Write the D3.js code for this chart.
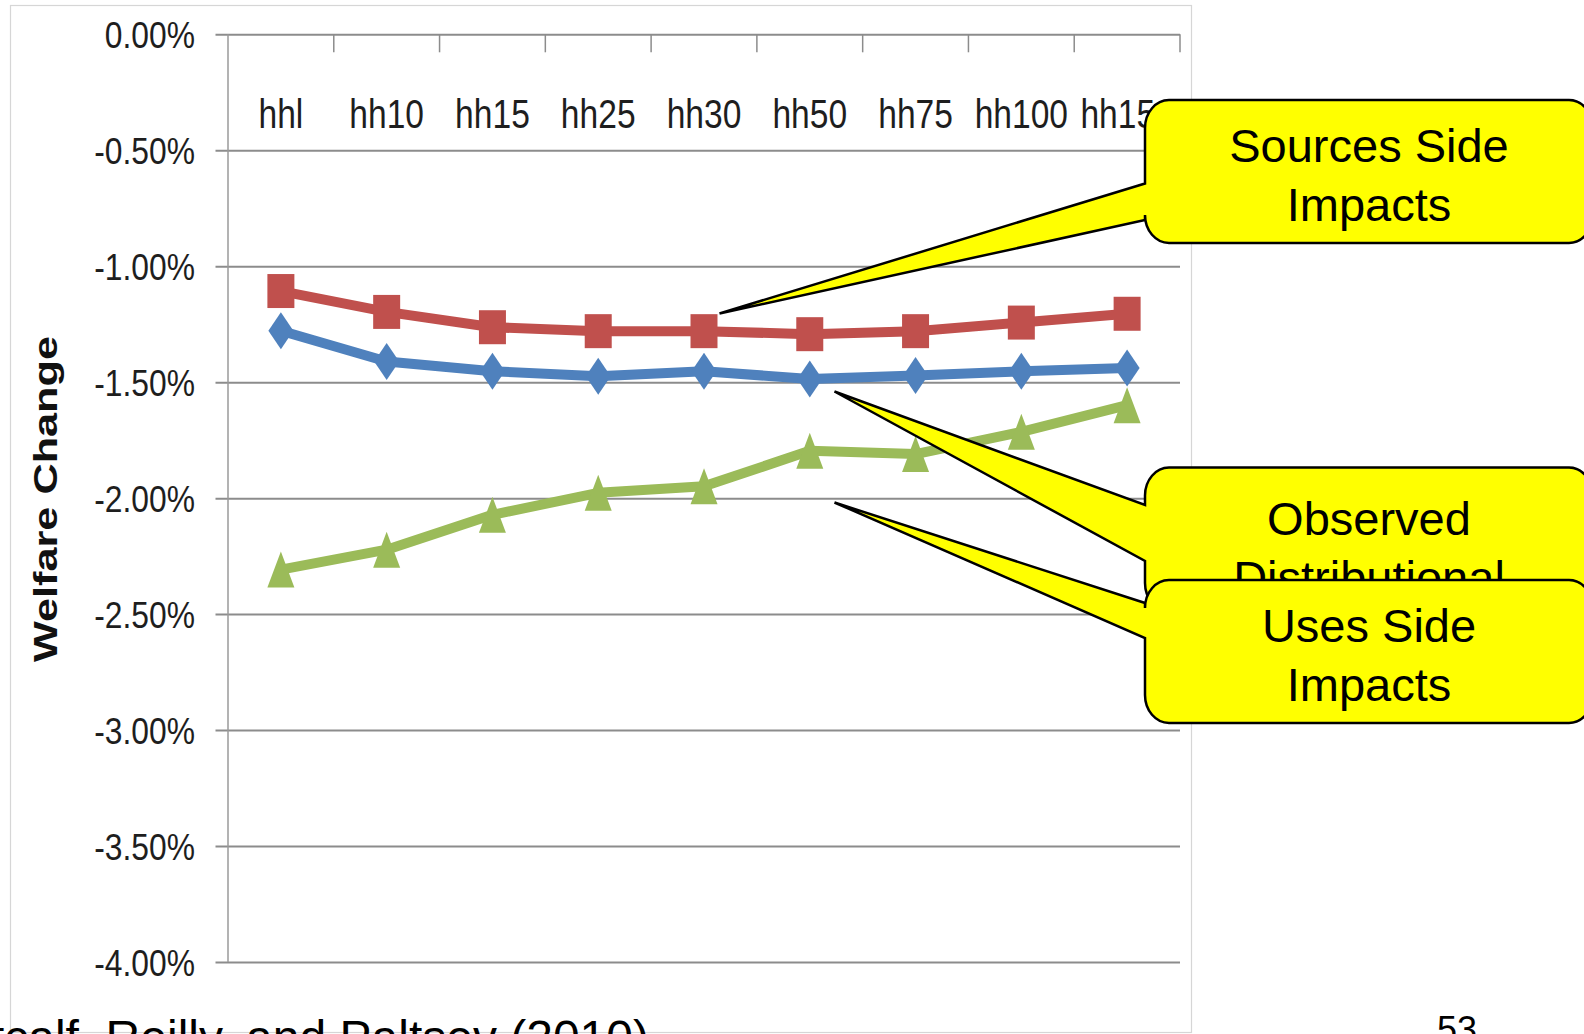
<!DOCTYPE html>
<html>
<head>
<meta charset="utf-8">
<script src="https://cdn.jsdelivr.net/npm/d3@7"></script>
<style>
  html, body { margin: 0; padding: 0; background: #fff; overflow: hidden; }
  svg { display: block; }
</style>
</head>
<body>
<svg id="chart" width="1584" height="1034"></svg>
<script>
// Household groups along the category axis
const categories = ["hhl", "hh10", "hh15", "hh25", "hh30", "hh50", "hh75", "hh100", "hh150"];

// Welfare change by household group, in percent
const sourcesSide = [-1.107, -1.197, -1.263, -1.280, -1.280, -1.293, -1.280, -1.243, -1.205];
const observedDistributional = [-1.278, -1.411, -1.453, -1.474, -1.453, -1.486, -1.471, -1.453, -1.439];
const usesSide = [-2.308, -2.222, -2.072, -1.977, -1.949, -1.796, -1.810, -1.714, -1.599];

// Value axis ticks, in percent
const yTicks = [0, -0.5, -1, -1.5, -2, -2.5, -3, -3.5, -4];

const yTitle = "Welfare Change";
const citation = "Metcalf, Reilly, and Paltsev (2010)";
const pageNumber = "53";

// Callout labels (one array of lines per callout)
const sourcesLabel = ["Sources Side", "Impacts"];
const observedLabel = ["Observed", "Distributional"];
const usesLabel = ["Uses Side", "Impacts"];

const svg = d3.select("#chart");
const FONT = "'Liberation Sans', Arial, sans-serif";

const plotLeft = 228, plotRight = 1180, plotTop = 34.3, plotBottom = 962;
const gridStart = 215.5;

const x = d3.scaleBand().domain(categories).range([plotLeft, plotRight]);
const y = d3.scaleLinear().domain([-4, 0]).range([plotBottom, plotTop]);
const cx = c => x(c) + x.bandwidth() / 2;

// Chart frame
svg.append("rect")
  .attr("x", 10.5).attr("y", 5.5)
  .attr("width", 1181).attr("height", 1027)
  .attr("fill", "none").attr("stroke", "#d6d6d6").attr("stroke-width", 1.2);

// Value axis with horizontal gridlines
const tickSx = 0.86;
const yAxis = d3.axisLeft(y)
  .tickValues(yTicks)
  .tickSize(-(plotRight - gridStart))
  .tickFormat(d => d.toFixed(2) + "%");

const yg = svg.append("g")
  .attr("transform", `translate(${gridStart},0)`)
  .call(yAxis);
yg.select(".domain").remove();
yg.selectAll(".tick line").attr("stroke", "#8c8c8c").attr("stroke-width", 2);
yg.selectAll(".tick text")
  .attr("x", -20.5 / tickSx)
  .attr("dy", null)
  .attr("y", 13)
  .attr("transform", `scale(${tickSx},1)`)
  .attr("fill", "#1e1e1e")
  .style("font-family", FONT)
  .style("font-size", "37px");

// Vertical axis line
svg.append("line")
  .attr("x1", plotLeft).attr("x2", plotLeft)
  .attr("y1", y(0)).attr("y2", y(-4))
  .attr("stroke", "#9a9a9a").attr("stroke-width", 1.5);

// Category tick marks hanging below the zero line
svg.append("g").selectAll("line")
  .data(categories)
  .join("line")
  .attr("x1", c => x(c) + x.bandwidth()).attr("x2", c => x(c) + x.bandwidth())
  .attr("y1", y(0)).attr("y2", y(0) + 18)
  .attr("stroke", "#8c8c8c").attr("stroke-width", 1.5);

// Category labels
const catSx = 0.84;
svg.append("g").selectAll("text")
  .data(categories)
  .join("text")
  .attr("transform", c => `translate(${cx(c)},128.3) scale(${catSx},1)`)
  .attr("text-anchor", "middle")
  .attr("fill", "#1e1e1e")
  .style("font-family", FONT)
  .style("font-size", "40px")
  .text(c => c);

// Axis title
svg.append("text")
  .attr("transform", "translate(57.4,499) rotate(-90)")
  .attr("text-anchor", "middle")
  .attr("textLength", 326)
  .attr("lengthAdjust", "spacingAndGlyphs")
  .attr("fill", "#111")
  .style("font-family", FONT)
  .style("font-weight", "bold")
  .style("font-size", "33px")
  .text(yTitle);

// Marker shapes
const markerPath = {
  square: "M-13.5,-17H13.5V17H-13.5Z",
  diamond: "M0,-18.5L12.5,0L0,18.5L-12.5,0Z",
  triangle: "M0,-18L13.5,18H-13.5Z"
};

const series = [
  { name: "Uses Side", values: usesSide, color: "#9BBB59", marker: "triangle" },
  { name: "Observed Distributional", values: observedDistributional, color: "#4F81BD", marker: "diamond" },
  { name: "Sources Side", values: sourcesSide, color: "#C0504D", marker: "square" }
];

const line = d3.line()
  .x((d, i) => cx(categories[i]))
  .y(d => y(d));

series.forEach(s => {
  const g = svg.append("g");
  g.append("path")
    .attr("d", line(s.values))
    .attr("fill", "none")
    .attr("stroke", s.color)
    .attr("stroke-width", 10)
    .attr("stroke-linejoin", "round");
  g.selectAll("path.m")
    .data(s.values)
    .join("path")
    .attr("class", "m")
    .attr("d", markerPath[s.marker])
    .attr("transform", (d, i) => `translate(${cx(categories[i])},${y(d)})`)
    .attr("fill", s.color);
});

// Callout balloons: rounded box with a pointer on its left edge
function calloutPath(b) {
  const { x0, y0, x1, y1, rx, ry, tipX, tipY, baseTop, baseBot } = b;
  return `M${x0 + rx},${y0}H${x1 - rx}A${rx},${ry} 0 0 1 ${x1},${y0 + ry}` +
    `V${y1 - ry}A${rx},${ry} 0 0 1 ${x1 - rx},${y1}H${x0 + rx}` +
    `A${rx},${ry} 0 0 1 ${x0},${y1 - ry}V${baseBot}L${tipX},${tipY}L${x0},${baseTop}` +
    `V${y0 + ry}A${rx},${ry} 0 0 1 ${x0 + rx},${y0}Z`;
}

const callouts = [
  { lines: sourcesLabel, box: { x0: 1145, y0: 100, x1: 1593, y1: 243, rx: 24, ry: 28,
      tipX: 719.5, tipY: 313.5, baseTop: 183.5, baseBot: 220 }, baselines: [162, 221] },
  { lines: observedLabel, box: { x0: 1145, y0: 467.5, x1: 1593, y1: 611, rx: 24, ry: 28,
      tipX: 834.5, tipY: 391.5, baseTop: 505, baseBot: 561 }, baselines: [534.5, 593.5] },
  { lines: usesLabel, box: { x0: 1145, y0: 580, x1: 1593, y1: 723, rx: 24, ry: 28,
      tipX: 834.5, tipY: 502.5, baseTop: 603, baseBot: 638 }, baselines: [642, 701] }
];

callouts.forEach(c => {
  const g = svg.append("g");
  g.append("path")
    .attr("d", calloutPath(c.box))
    .attr("fill", "#FFFF00")
    .attr("stroke", "#000")
    .attr("stroke-width", 2.5)
    .attr("stroke-linejoin", "miter");
  g.selectAll("text")
    .data(c.lines)
    .join("text")
    .attr("x", 1369)
    .attr("y", (d, i) => c.baselines[i])
    .attr("text-anchor", "middle")
    .attr("fill", "#000")
    .style("font-family", FONT)
    .style("font-size", "47px")
    .text(d => d);
});

// Citation and page number along the bottom
svg.append("text")
  .attr("x", 649).attr("y", 1054)
  .attr("text-anchor", "end")
  .attr("fill", "#000")
  .style("font-family", FONT)
  .style("font-size", "48px")
  .text(citation);

svg.append("text")
  .attr("x", 1457).attr("y", 1042)
  .attr("text-anchor", "middle")
  .attr("fill", "#000")
  .style("font-family", FONT)
  .style("font-size", "36px")
  .text(pageNumber);
</script>
</body>
</html>
